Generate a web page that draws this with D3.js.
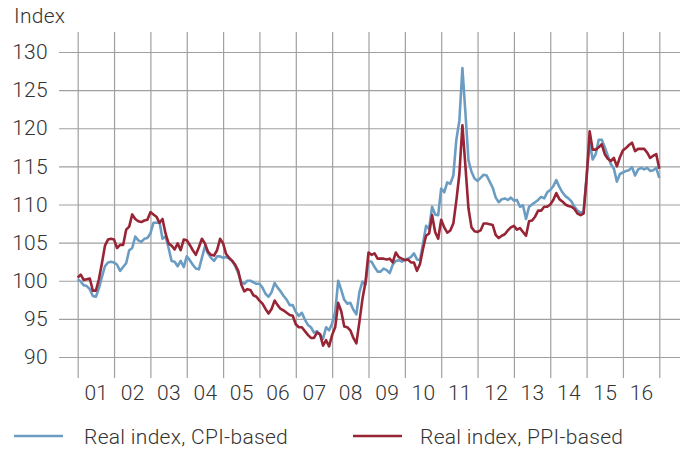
<!DOCTYPE html>
<html>
<head>
<meta charset="utf-8">
<script src="https://cdn.jsdelivr.net/npm/d3@7"></script>
<style>
  html, body { margin: 0; padding: 0; background: #fff; }
  svg text { font-family: Roboto, "Liberation Sans", sans-serif; font-weight: 300; fill: #333; letter-spacing: 0.3px; }
</style>
</head>
<body>
<svg id="chart" width="686" height="450"></svg>
<script>
// Real exchange-rate indices, monthly, Jan 2001 – Jan 2017
const startYear = 2001;
const years = d3.range(2001, 2018);
const yTicks = [90, 95, 100, 105, 110, 115, 120, 125, 130];
const xTickLabels = ["01","02","03","04","05","06","07","08","09","10","11","12","13","14","15","16"];
const seriesNames = ["Real index, CPI-based", "Real index, PPI-based"];
const yTitle = "Index";

const cpi = [
  // 2001
  100.2, 99.9, 99.4, 99.3, 98.9, 98.0, 97.9, 99.0, 100.5, 101.9, 102.4, 102.5,
  // 2002
  102.4, 102.1, 101.3, 101.8, 102.3, 104.0, 104.3, 105.8, 105.3, 105.1, 105.5, 105.6,
  // 2003
  106.2, 107.6, 107.6, 107.7, 105.5, 105.8, 104.3, 102.6, 102.5, 101.9, 102.6, 101.8,
  // 2004
  103.2, 102.7, 102.1, 101.6, 101.5, 103.0, 104.5, 103.6, 103.0, 102.6, 103.2, 103.2,
  // 2005
  103.0, 103.1, 102.9, 102.6, 101.9, 101.0, 99.8, 99.6, 100.0, 100.0, 99.8, 99.6,
  // 2006
  99.6, 99.1, 98.3, 97.9, 98.5, 99.7, 99.1, 98.6, 98.0, 97.5, 96.8, 96.8,
  // 2007
  95.9, 95.4, 95.8, 94.9, 94.2, 93.9, 93.2, 93.4, 92.9, 92.4, 93.9, 93.5,
  // 2008
  94.4, 95.9, 100.0, 98.8, 97.5, 97.0, 97.1, 96.2, 95.6, 98.5, 99.9, 99.5,
  // 2009
  102.6, 102.5, 101.8, 101.2, 101.2, 101.6, 101.4, 101.0, 102.1, 102.6, 102.7, 102.5,
  // 2010
  102.8, 102.9, 103.1, 103.6, 102.8, 102.7, 104.9, 107.2, 106.8, 109.7, 108.7, 108.6,
  // 2011
  112.1, 111.6, 112.9, 112.7, 113.8, 118.5, 121.0, 127.9, 122.0, 115.8, 114.3, 113.4,
  // 2012
  113.1, 113.5, 113.9, 113.8, 113.0, 112.2, 110.9, 110.3, 110.7, 110.8, 110.6, 110.9,
  // 2013
  110.5, 110.6, 109.7, 109.9, 108.1, 109.7, 110.0, 110.3, 110.6, 111.0, 110.8, 111.6,
  // 2014
  111.9, 112.4, 113.2, 112.3, 111.6, 111.1, 110.8, 110.4, 109.7, 109.2, 108.9, 109.1,
  // 2015
  113.7, 118.2, 115.9, 116.6, 118.5, 118.5, 117.5, 116.4, 115.3, 114.7, 113.0, 114.0,
  // 2016
  114.2, 114.4, 114.5, 114.9, 113.8, 114.6, 114.8, 114.6, 114.8, 114.4, 114.5, 114.8,
  // 2017
  113.5
];

const ppi = [
  // 2001
  100.4, 100.8, 100.1, 100.2, 100.3, 98.7, 98.7, 100.2, 102.3, 104.6, 105.4, 105.5,
  // 2002
  105.4, 104.3, 104.7, 104.7, 106.7, 107.1, 108.7, 108.1, 107.8, 107.7, 107.9, 108.0,
  // 2003
  109.0, 108.7, 108.4, 107.6, 108.1, 106.2, 104.9, 104.6, 104.1, 104.9, 104.0, 105.4,
  // 2004
  105.3, 104.7, 104.0, 103.4, 104.4, 105.5, 104.9, 103.8, 103.4, 103.3, 104.0, 105.5,
  // 2005
  104.9, 103.5, 103.0, 102.6, 102.1, 101.3, 99.5, 98.6, 98.9, 98.8, 98.1, 97.9,
  // 2006
  97.4, 97.0, 96.3, 95.7, 96.3, 97.4, 96.8, 96.3, 96.1, 95.8, 95.5, 95.4,
  // 2007
  94.3, 93.9, 93.9, 93.4, 92.9, 92.5, 92.5, 93.2, 93.0, 91.5, 92.2, 91.4,
  // 2008
  92.9, 93.9, 97.1, 96.0, 94.0, 93.9, 93.5, 92.5, 91.8, 94.6, 97.6, 99.8,
  // 2009
  103.7, 103.4, 103.6, 102.9, 102.9, 102.9, 102.8, 102.9, 102.4, 103.7, 103.1, 102.9,
  // 2010
  102.7, 102.8, 102.4, 102.4, 101.3, 102.2, 104.2, 105.9, 106.2, 108.6, 106.4, 105.5,
  // 2011
  108.0, 107.0, 106.3, 106.6, 107.5, 110.5, 114.0, 120.4, 115.0, 109.5, 107.0, 106.5,
  // 2012
  106.4, 106.6, 107.5, 107.5, 107.4, 107.3, 106.0, 105.6, 105.9, 106.1, 106.6, 107.0,
  // 2013
  107.2, 106.7, 106.9, 106.4, 105.9, 107.8, 107.9, 108.4, 109.2, 109.2, 109.7, 109.7,
  // 2014
  110.0, 110.6, 111.5, 110.7, 110.4, 110.0, 109.8, 109.7, 109.4, 108.8, 108.6, 108.8,
  // 2015
  113.5, 119.6, 117.2, 117.2, 117.5, 117.9, 116.6, 116.0, 115.7, 116.1, 115.0, 116.2,
  // 2016
  117.1, 117.4, 117.8, 118.1, 117.0, 117.3, 117.3, 117.3, 116.8, 116.1, 116.4, 116.6,
  // 2017
  114.7
];

const colors = ["#6b9dc3", "#982535"];

const svg = d3.select("#chart");

const x = d3.scaleLinear().domain([2001, 2017]).range([77.7, 659.3]);
const y = d3.scaleLinear().domain([90, 130]).range([357, 52]);

const gridColor = "#a0a0a0";
const plotTop = 32, plotBottom = 378, gridLeft = 59, gridRight = 680;
const fontSize = 21;

// horizontal gridlines and value labels
const yAxis = svg.append("g")
  .attr("transform", `translate(${gridLeft},0)`)
  .call(d3.axisLeft(y).tickValues(yTicks).tickSize(-(gridRight - gridLeft)).tickPadding(11).tickFormat(d3.format("d")));
yAxis.select(".domain").remove();
yAxis.selectAll("line").attr("stroke", gridColor).attr("stroke-width", 1.2);
yAxis.selectAll("text").attr("font-size", fontSize).style("fill", "#333");

// vertical year gridlines
const xGrid = svg.append("g")
  .attr("transform", `translate(0,${plotBottom})`)
  .call(d3.axisBottom(x).tickValues(years).tickSize(-(plotBottom - plotTop)).tickFormat(""));
xGrid.select(".domain").remove();
xGrid.selectAll("line").attr("stroke", gridColor).attr("stroke-width", 1.2);

// year labels centred within each year
const xLabels = svg.append("g")
  .attr("transform", `translate(0,${plotBottom})`)
  .call(d3.axisBottom(x).tickValues(d3.range(2001.5, 2017, 1)).tickSize(0).tickPadding(7)
    .tickFormat((d, i) => xTickLabels[i]));
xLabels.select(".domain").remove();
xLabels.selectAll("text").attr("font-size", fontSize).style("fill", "#333");

// axis title
svg.append("text").attr("x", 14).attr("y", 23).attr("font-size", fontSize).text(yTitle);

// series lines
const line = d3.line()
  .x((d, i) => x(startYear + i / 12))
  .y(d => y(d));

[cpi, ppi].forEach((s, k) => {
  svg.append("path")
    .datum(s)
    .attr("fill", "none")
    .attr("stroke", colors[k])
    .attr("stroke-width", 2.6)
    .attr("stroke-linejoin", "round")
    .attr("d", line);
});

// legend
const legendItems = [
  { x0: 14, x1: 63, tx: 84 },
  { x0: 353, x1: 402, tx: 420 }
];
legendItems.forEach((it, k) => {
  svg.append("line")
    .attr("x1", it.x0).attr("x2", it.x1).attr("y1", 436).attr("y2", 436)
    .attr("stroke", colors[k]).attr("stroke-width", 2.6);
  svg.append("text")
    .attr("x", it.tx).attr("y", 444).attr("font-size", fontSize)
    .text(seriesNames[k]);
});
</script>
</body>
</html>
